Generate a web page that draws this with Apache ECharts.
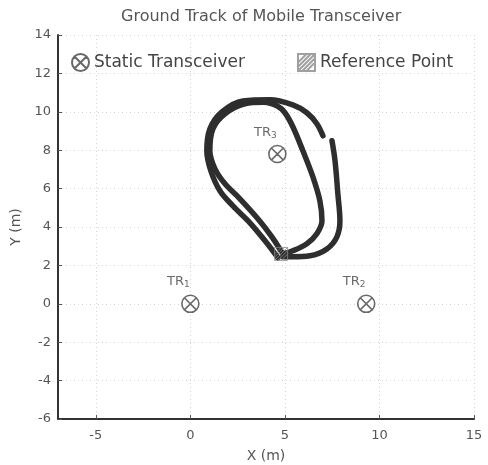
<!DOCTYPE html>
<html>
<head>
<meta charset="utf-8">
<script src="https://cdn.jsdelivr.net/npm/echarts@6/dist/echarts.min.js"></script>
<style>html,body{margin:0;padding:0;background:#fff}#c{width:488px;height:465px}</style>
</head>
<body>
<div id="c"></div>
<script>
// ---- data ----
var xTicks = [-5, 0, 5, 10, 15];
var yTicks = [-6, -4, -2, 0, 2, 4, 6, 8, 10, 12, 14];
// lap 1: up the left side, over the top, down the inner right side
var lap1 = [[4.89,2.60],[4.31,3.49],[3.57,4.43],[2.62,5.47],[1.83,6.25],[1.30,7.03],[1.03,7.97],[1.19,9.11],[1.83,9.90],[2.88,10.42],[3.9,10.5],[4.6,10.3],[5.0,9.95],[5.42,9.22],[5.95,7.97],[6.48,6.61],[6.85,5.36],[6.96,4.32],[6.69,3.65],[6.16,3.13],[5.42,2.76],[4.89,2.60]];
// lap 2: up the left side again, over the top, outer right (until gap)
var lap2 = [[4.63,2.40],[3.99,3.23],[3.15,4.22],[2.25,5.10],[1.56,5.89],[1.08,6.93],[0.87,7.97],[1.03,9.11],[1.67,10.0],[2.78,10.57],[4.21,10.63],[5.42,10.36],[6.16,9.95],[6.69,9.38],[7.01,8.75]];
// lap 2 continued after gap: outer right side back to reference point
var lap3 = [[7.49,8.49],[7.65,7.45],[7.80,5.73],[7.91,4.32],[7.75,3.49],[7.22,2.86],[6.32,2.50],[5.42,2.45],[4.89,2.45]];
var txNames = ['1', '2', '3'];
var txX = [0, 9.3, 4.6];
var txY = [0, 0, 7.8];
var refPoint = [4.8, 2.6];

// ---- chart ----
var FONT = 'DejaVu Sans';
var txPath = 'path://M0,10A10,10 0 1,1 20,10A10,10 0 1,1 0,10Z M3.5,3.5L16.5,16.5 M16.5,3.5L3.5,16.5';
var refPath = 'path://M0,0L14,0L14,14L0,14Z M0,14L14,0 M0,7L7,0 M7,14L14,7 M0,10.5L10.5,0 M3.5,14L14,3.5';

var txData = txNames.map(function (n, i) { return { value: [txX[i], txY[i]], name: n }; });

function trackSeries(d) {
  return {
    type: 'line', data: d, smooth: 0.35, symbol: 'none', silent: true,
    lineStyle: { color: '#2e2e2e', width: 5.5, cap: 'round', join: 'round' }, z: 2
  };
}

var chart = echarts.init(document.getElementById('c'), null, { renderer: 'canvas' });
chart.setOption({
  animation: false,
  backgroundColor: '#fff',
  textStyle: { fontFamily: FONT },
  title: {
    text: 'Ground Track of Mobile Transceiver', left: 116, top: 4,
    textStyle: { fontFamily: FONT, fontSize: 16, fontWeight: 'normal', color: '#555' }
  },
  legend: {
    data: ['Static Transceiver', 'Reference Point'],
    left: 66, top: 48, itemGap: 52, itemWidth: 17, itemHeight: 17, itemStyle: {},
    textStyle: { fontFamily: FONT, fontSize: 17, color: '#444' }
  },
  grid: { left: 58, right: 14, top: 35, bottom: 46, outerBoundsMode: 'none', containLabel: false },
  xAxis: {
    type: 'value', min: -7, max: 15,
    name: 'X (m)', nameLocation: 'middle', nameGap: 30,
    nameTextStyle: { fontFamily: FONT, fontSize: 14, color: '#555' },
    axisLine: { onZero: false, lineStyle: { color: '#333', width: 2 } },
    axisTick: { inside: true, length: 4, customValues: xTicks, lineStyle: { color: '#555' } },
    axisLabel: { customValues: xTicks, margin: 10, fontFamily: FONT, fontSize: 13, color: '#555' },
    splitLine: { show: true, lineStyle: { color: '#d4d4d4', type: [1, 3], width: 1 } }
  },
  yAxis: {
    type: 'value', min: -6, max: 14, interval: 2,
    name: 'Y (m)', nameLocation: 'middle', nameGap: 32,
    nameTextStyle: { fontFamily: FONT, fontSize: 14, color: '#555' },
    axisLine: { onZero: false, show: true, lineStyle: { color: '#333', width: 2 } },
    axisTick: { show: true, inside: true, length: 4, lineStyle: { color: '#555' } },
    axisLabel: { margin: 7, fontFamily: FONT, fontSize: 13, color: '#555' },
    splitLine: { show: true, lineStyle: { color: '#d4d4d4', type: [1, 3], width: 1 } }
  },
  series: [
    trackSeries(lap1),
    trackSeries(lap2),
    trackSeries(lap3),
    {
      name: 'Reference Point', type: 'scatter', data: [refPoint],
      symbol: refPath, symbolSize: 13, z: 4,
      itemStyle: { color: 'rgba(255,255,255,0)', borderColor: '#888', borderWidth: 1 }
    },
    {
      name: 'Static Transceiver', type: 'scatter', data: txData,
      symbol: txPath, symbolSize: 17, z: 5,
      itemStyle: { color: 'rgba(255,255,255,0.9)', borderColor: '#444', borderWidth: 1.6 },
      label: {
        show: true, position: 'top', distance: 5, offset: [-12, 0],
        formatter: function (p) { return 'TR{s|' + p.name + '}'; },
        fontFamily: FONT, fontSize: 13, color: '#444',
        rich: { s: { fontFamily: FONT, fontSize: 9, color: '#444', verticalAlign: 'bottom', padding: [6, 0, 0, 0] } }
      }
    }
  ]
});
</script>
</body>
</html>
